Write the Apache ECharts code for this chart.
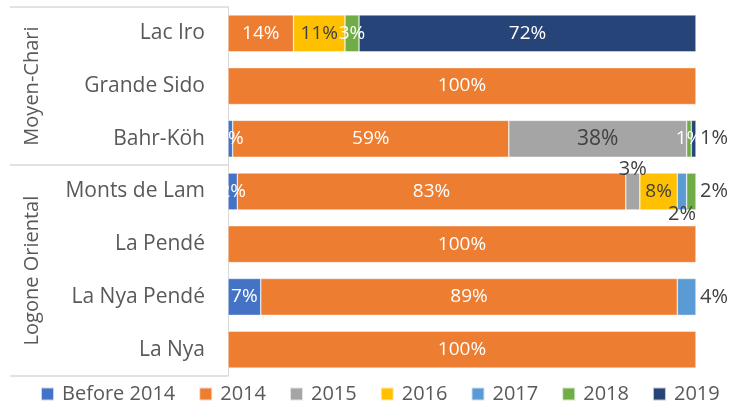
<!DOCTYPE html>
<html>
<head>
<meta charset="utf-8">
<script src="https://cdn.jsdelivr.net/npm/echarts@6/dist/echarts.min.js"></script>
<style>
  html, body { margin: 0; padding: 0; background: #fff; }
  #chart { width: 735px; height: 405px; }
</style>
</head>
<body>
<div id="chart"></div>
<script>
// categories, top to bottom
const sites = ['Lac Iro', 'Grande Sido', 'Bahr-Köh', 'Monts de Lam', 'La Pendé', 'La Nya Pendé', 'La Nya']
const regions = ['Moyen-Chari', 'Logone Oriental']
const regionSizes = [3, 4]

const years = ['Before 2014', '2014', '2015', '2016', '2017', '2018', '2019']
const colors = ['#4472C4', '#ED7D31', '#A5A5A5', '#FFC000', '#5B9BD5', '#70AD47', '#264478']

// share (%) per site, one array per year
const before2014 = [0, 0, 1, 2, 0, 7, 0]
const y2014 = [14, 100, 59, 83, 100, 89, 100]
const y2015 = [0, 0, 38, 3, 0, 0, 0]
const y2016 = [11, 0, 0, 8, 0, 0, 0]
const y2017 = [0, 0, 0, 2, 0, 4, 0]
const y2018 = [3, 0, 1, 2, 0, 0, 0]
const y2019 = [72, 0, 1, 0, 0, 0, 0]
const values = [before2014, y2014, y2015, y2016, y2017, y2018, y2019]

// text colour of labels inside each segment
const darkLabel = [false, false, true, true, false, false, false]

// labels Excel moved out of their narrow segment: [year index, site index, position]
const movedLabels = [
  [6, 2, 'right'],
  [2, 3, 'top'],
  [4, 3, 'bottom'],
  [5, 3, 'right'],
  [4, 5, 'right']
]

const font = 'Open Sans'
const textGrey = '#595959'

function buildData (yi) {
  return values[yi].map((v, si) => {
    if (!v) return '-'
    const moved = movedLabels.find(m => m[0] === yi && m[1] === si)
    if (!moved) return v
    return {
      value: v,
      label: { position: moved[2], color: '#404040', fontSize: 20, distance: moved[2] === 'right' ? 4 : -6 }
    }
  })
}

const series = years.map((name, yi) => ({
  name: name,
  type: 'bar',
  stack: 'total',
  barWidth: '70%',
  itemStyle: { color: colors[yi], borderColor: 'rgba(255,255,255,0.7)', borderWidth: 0.6 },
  label: {
    show: true,
    position: 'inside',
    fontFamily: font,
    fontSize: yi === 2 ? 21 : 19,
    color: darkLabel[yi] ? '#404040' : '#ffffff',
    formatter: p => p.value + '%'
  },
  data: buildData(yi)
}))

// group boundaries on the value axis that carries the region labels
const bounds = [0]
regionSizes.forEach(n => bounds.push(bounds[bounds.length - 1] + n))
const centers = regionSizes.map((n, i) => bounds[i] + n / 2)

const chart = echarts.init(document.getElementById('chart'))
chart.setOption({
  animation: false,
  textStyle: { fontFamily: font },
  grid: { left: 228, right: 39, top: 7, bottom: 29, containLabel: false },
  legend: {
    bottom: 1,
    left: 40,
    padding: 0,
    itemWidth: 13,
    itemHeight: 13,
    itemGap: 23,
    icon: 'rect',
    textStyle: { fontFamily: font, fontSize: 20, color: textGrey, padding: [0, 0, 0, 3] },
    data: years
  },
  xAxis: { type: 'value', min: 0, max: 100, show: false },
  yAxis: [
    {
      type: 'category',
      inverse: true,
      data: sites,
      axisLine: { show: true, lineStyle: { color: '#D9D9D9' } },
      axisTick: { show: false },
      axisLabel: { fontFamily: font, fontSize: 21, color: textGrey, margin: 23 }
    },
    {
      type: 'value',
      inverse: true,
      position: 'left',
      min: 0,
      max: sites.length,
      splitLine: { show: false },
      axisLine: { show: false },
      axisTick: {
        show: true,
        customValues: bounds,
        length: 218,
        lineStyle: { color: '#D9D9D9', width: 1.5 }
      },
      axisLabel: {
        customValues: centers,
        rotate: 90,
        margin: 186,
        fontFamily: font,
        fontSize: 20,
        color: textGrey,
        formatter: v => regions[centers.indexOf(v)]
      }
    }
  ],
  series: series
})
</script>
</body>
</html>
